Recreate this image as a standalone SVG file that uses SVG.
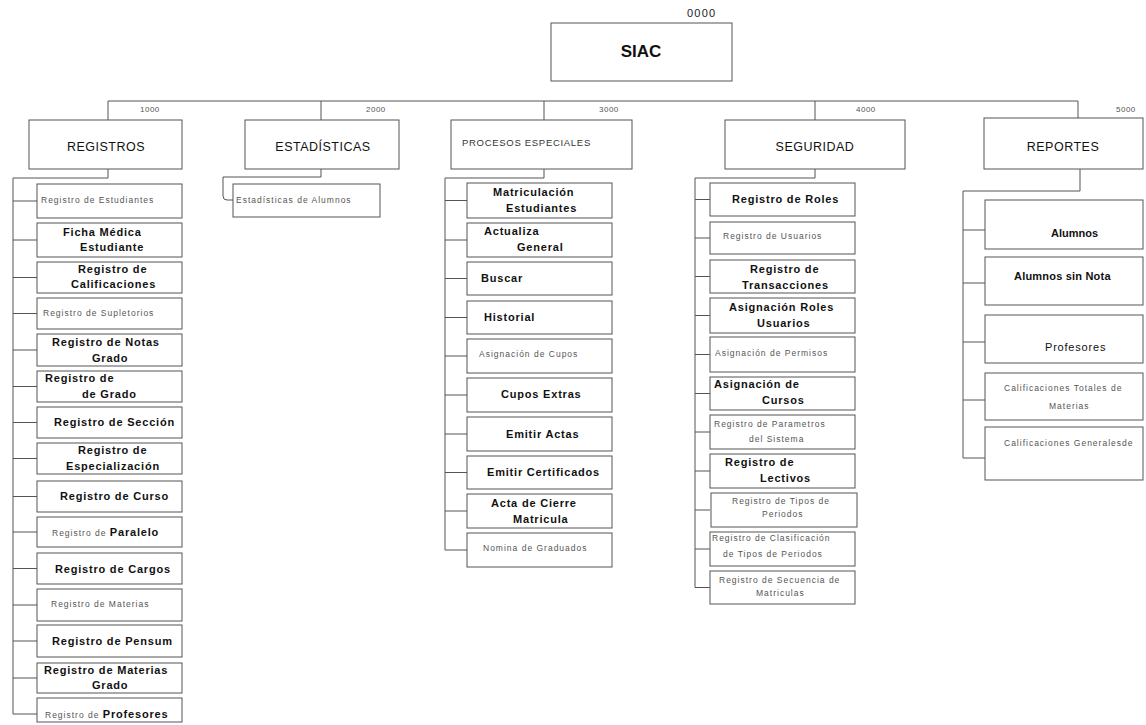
<svg xmlns="http://www.w3.org/2000/svg" width="1146" height="725" viewBox="0 0 1146 725">
<style>
.box{fill:#fff;stroke:#555;stroke-width:1}
.conn path{fill:none;stroke:#555;stroke-width:1}
text{font-family:"Liberation Sans",Arial,sans-serif}
.t{font-size:17px;font-weight:bold;fill:#111}
.h{font-size:12.5px;letter-spacing:0.5px;fill:#111}
.hs{font-size:9.5px;letter-spacing:0.7px;fill:#333}
.n{font-size:8px;letter-spacing:0.5px;fill:#555}
.n0{font-size:11px;letter-spacing:1.2px;fill:#222}
.b{font-size:11px;font-weight:bold;letter-spacing:0.8px;fill:#111}
.m{font-size:11px;letter-spacing:0.8px;fill:#111}
.s{font-size:8.5px;letter-spacing:1px;fill:#555}
</style>
<g id="root">
<rect class="box" x="551" y="23" width="181" height="58"/>
<text class="t" x="641" y="57" text-anchor="middle">SIAC</text>
<text class="n0" x="687" y="17">0000</text>
</g>
<g class="conn" id="connectors">
<path d="M108 101H1078"/>
<path d="M108 101V120M321 101V120M544 101V120M815 101V120M1078 101V118"/>
<path d="M108 169V178H13V714H37"/>
<path d="M13 201H37M13 240H37M13 277.5H37M13 313.5H37M13 350H37M13 386.5H37M13 422.5H37M13 458.5H37M13 496.5H37M13 532H37M13 568.5H37M13 605H37M13 641H37M13 678H37"/>
<path d="M321 169V177H223V196Q223 200 227 200H233"/>
<path d="M544 169V178H445V550H467"/>
<path d="M445 200.5H467M445 240H467M445 278.5H467M445 317.5H467M445 356H467M445 395H467M445 434H467M445 472.5H467M445 511H467"/>
<path d="M815 169V178H695V587.5H710"/>
<path d="M695 199.5H710M695 238H710M695 276.5H710M695 315.5H710M695 354.5H710M695 393.5H710M695 432H710M695 471H710M695 510H710M695 549H710"/>
<path d="M1080 169V191H963V458H985"/>
<path d="M963 230H985M963 283H985M963 342H985M963 400H985"/>
</g>
<g id="n1000">
<rect class="box" x="29" y="120" width="153" height="49"/>
<text class="h" x="106" y="151" text-anchor="middle">REGISTROS</text>
<text class="n" x="140" y="112">1000</text>
</g>
<g id="n2000">
<rect class="box" x="245" y="120" width="154" height="49"/>
<text class="h" x="323" y="151" text-anchor="middle">ESTADÍSTICAS</text>
<text class="n" x="366" y="112">2000</text>
</g>
<g id="n3000">
<rect class="box" x="451" y="120" width="181" height="49"/>
<text class="hs" x="462" y="146">PROCESOS ESPECIALES</text>
<text class="n" x="599" y="112">3000</text>
</g>
<g id="n4000">
<rect class="box" x="725" y="120" width="180" height="49"/>
<text class="h" x="815" y="151" text-anchor="middle">SEGURIDAD</text>
<text class="n" x="856" y="112">4000</text>
</g>
<g id="n5000">
<rect class="box" x="984" y="118" width="159" height="51"/>
<text class="h" x="1063" y="151" text-anchor="middle">REPORTES</text>
<text class="n" x="1116" y="112">5000</text>
</g>
<g id="n1001"><rect class="box" x="37" y="184" width="145" height="34"/><text class="s" x="41" y="203">Registro de Estudiantes</text></g>
<g id="n1002"><rect class="box" x="37" y="223" width="145" height="34"/><text class="b" x="63" y="236">Ficha Médica</text><text class="b" x="80" y="251">Estudiante</text></g>
<g id="n1003"><rect class="box" x="37" y="262" width="145" height="31"/><text class="b" x="78" y="273">Registro de</text><text class="b" x="71" y="288">Calificaciones</text></g>
<g id="n1004"><rect class="box" x="37" y="298" width="145" height="31"/><text class="s" x="43" y="316">Registro de Supletorios</text></g>
<g id="n1005"><rect class="box" x="37" y="334" width="145" height="32"/><text class="b" x="52" y="346">Registro de Notas</text><text class="b" x="92" y="362">Grado</text></g>
<g id="n1006"><rect class="box" x="37" y="371" width="145" height="31"/><text class="b" x="45" y="382">Registro de</text><text class="b" x="82" y="398">de  Grado</text></g>
<g id="n1007"><rect class="box" x="37" y="407" width="145" height="31"/><text class="b" x="54" y="426">Registro de Sección</text></g>
<g id="n1008"><rect class="box" x="37" y="443" width="145" height="31"/><text class="b" x="78" y="454">Registro de</text><text class="b" x="66" y="470">Especialización</text></g>
<g id="n1009"><rect class="box" x="37" y="481" width="145" height="31"/><text class="b" x="60" y="500">Registro de Curso</text></g>
<g id="n1010"><rect class="box" x="37" y="517" width="145" height="30"/><text x="52" y="536"><tspan class="s">Registro de </tspan><tspan class="b">Paralelo</tspan></text></g>
<g id="n1011"><rect class="box" x="37" y="553" width="145" height="31"/><text class="b" x="55" y="573">Registro de Cargos</text></g>
<g id="n1012"><rect class="box" x="37" y="589" width="145" height="32"/><text class="s" x="51" y="607">Registro de Materias</text></g>
<g id="n1013"><rect class="box" x="37" y="625" width="145" height="32"/><text class="b" x="52" y="645">Registro de Pensum</text></g>
<g id="n1014"><rect class="box" x="37" y="663" width="145" height="30"/><text class="b" x="44" y="674">Registro de Materias</text><text class="b" x="92" y="689">Grado</text></g>
<g id="n1015"><rect class="box" x="37" y="698" width="145" height="24"/><text x="45" y="718"><tspan class="s">Registro de </tspan><tspan class="b">Profesores</tspan></text></g>
<g id="n2001"><rect class="box" x="233" y="184" width="147" height="33"/><text class="s" x="236" y="203">Estadísticas de Alumnos</text></g>
<g id="n3001"><rect class="box" x="467" y="183" width="145" height="35"/><text class="b" x="493" y="196">Matriculación</text><text class="b" x="506" y="212">Estudiantes</text></g>
<g id="n3002"><rect class="box" x="467" y="223" width="145" height="34"/><text class="b" x="484" y="235">Actualiza</text><text class="b" x="517" y="251">General</text></g>
<g id="n3003"><rect class="box" x="467" y="262" width="145" height="33"/><text class="b" x="481" y="282">Buscar</text></g>
<g id="n3004"><rect class="box" x="467" y="301" width="145" height="33"/><text class="b" x="484" y="321">Historial</text></g>
<g id="n3005"><rect class="box" x="467" y="339" width="145" height="34"/><text class="s" x="479" y="357">Asignación de Cupos</text></g>
<g id="n3006"><rect class="box" x="467" y="378" width="145" height="34"/><text class="b" x="501" y="398">Cupos Extras</text></g>
<g id="n3007"><rect class="box" x="467" y="417" width="145" height="34"/><text class="b" x="506" y="438">Emitir Actas</text></g>
<g id="n3008"><rect class="box" x="467" y="456" width="145" height="33"/><text class="b" x="487" y="476">Emitir Certificados</text></g>
<g id="n3009"><rect class="box" x="467" y="494" width="145" height="34"/><text class="b" x="491" y="507">Acta de Cierre</text><text class="b" x="513" y="523">Matricula</text></g>
<g id="n3010"><rect class="box" x="467" y="533" width="145" height="34"/><text class="s" x="483" y="551">Nomina de Graduados</text></g>
<g id="n4001"><rect class="box" x="710" y="183" width="145" height="33"/><text class="b" x="732" y="203">Registro de Roles</text></g>
<g id="n4002"><rect class="box" x="710" y="222" width="145" height="32"/><text class="s" x="723" y="239">Registro de Usuarios</text></g>
<g id="n4003"><rect class="box" x="710" y="260" width="145" height="33"/><text class="b" x="750" y="273">Registro de</text><text class="b" x="742" y="289">Transacciones</text></g>
<g id="n4004"><rect class="box" x="710" y="298" width="145" height="35"/><text class="b" x="729" y="311">Asignación Roles</text><text class="b" x="757" y="327">Usuarios</text></g>
<g id="n4005"><rect class="box" x="710" y="337" width="145" height="35"/><text class="s" x="715" y="356">Asignación de Permisos</text></g>
<g id="n4006"><rect class="box" x="710" y="377" width="145" height="33"/><text class="b" x="714" y="388">Asignación de</text><text class="b" x="762" y="404">Cursos</text></g>
<g id="n4007"><rect class="box" x="710" y="415" width="145" height="34"/><text class="s" x="714" y="427">Registro de Parametros</text><text class="s" x="749" y="442">del Sistema</text></g>
<g id="n4008"><rect class="box" x="710" y="454" width="145" height="34"/><text class="b" x="725" y="466">Registro de</text><text class="b" x="760" y="482">Lectivos</text></g>
<g id="n4009"><rect class="box" x="711" y="493" width="146" height="34"/><text class="s" x="732" y="504">Registro de Tipos de</text><text class="s" x="762" y="517">Periodos</text></g>
<g id="n4010"><rect class="box" x="710" y="532" width="145" height="34"/><text class="s" x="712" y="541">Registro de Clasificación</text><text class="s" x="723" y="557">de Tipos de Periodos</text></g>
<g id="n4011"><rect class="box" x="710" y="571" width="145" height="33"/><text class="s" x="719" y="583">Registro de Secuencia de</text><text class="s" x="756" y="596">Matriculas</text></g>
<g id="n5001"><rect class="box" x="985" y="200" width="158" height="49"/><text class="b" x="1051" y="237" style="letter-spacing:0">Alumnos</text></g>
<g id="n5002"><rect class="box" x="985" y="257" width="158" height="48"/><text class="b" x="1014" y="280" style="letter-spacing:0.2px">Alumnos sin Nota</text></g>
<g id="n5003"><rect class="box" x="985" y="315" width="158" height="48"/><text class="m" x="1045" y="351">Profesores</text></g>
<g id="n5004"><rect class="box" x="985" y="373" width="158" height="47"/><text class="s" x="1004" y="391">Calificaciones Totales de</text><text class="s" x="1049" y="409">Materias</text></g>
<g id="n5005"><rect class="box" x="985" y="427" width="158" height="53"/><text class="s" x="1004" y="446">Calificaciones Generalesde</text></g>
</svg>
